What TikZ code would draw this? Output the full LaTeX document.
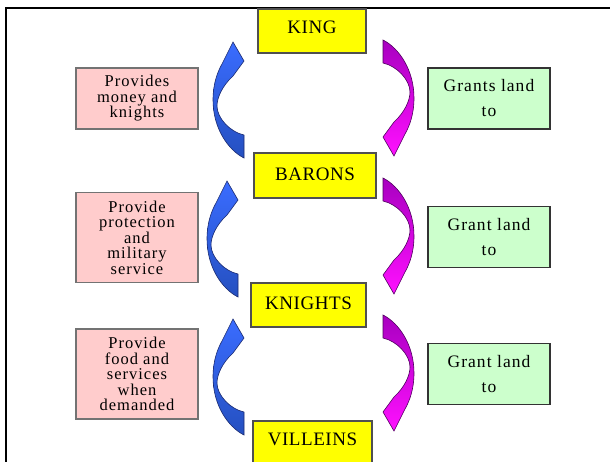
\documentclass[tikz,border=0pt]{standalone}
\usepackage{fontspec}
\setmainfont{Liberation Serif}
\newfontfamily\yfont[LetterSpace=3]{Liberation Serif}
\newfontfamily\pfont[LetterSpace=6]{Liberation Serif}
\newfontfamily\gfont[LetterSpace=6]{Liberation Serif}
\definecolor{ybox}{HTML}{FFFF00}
\definecolor{pbox}{HTML}{FFCCCC}
\definecolor{gbox}{HTML}{CCFFCC}
\definecolor{bluelt}{HTML}{3A6CFF}
\definecolor{bluedk}{HTML}{2550C0}
\definecolor{blueln}{HTML}{1A2A70}
\definecolor{maglt}{HTML}{FF10FF}
\definecolor{magdk}{HTML}{A800C0}
\definecolor{magln}{HTML}{500060}
\definecolor{boxln}{HTML}{505050}
\tikzset{
  yellowbox/.style={draw=boxln, line width=1.1pt, fill=ybox, inner sep=0pt, anchor=base,
    font=\yfont\fontsize{19}{21}\selectfont},
  pinkbox/.style={draw=boxln!80, line width=1.1pt, fill=pbox, inner sep=0pt, align=center,
    minimum width=122pt, font=\pfont\fontsize{16.5}{15.5}\selectfont},
  greenbox/.style={draw=black!80, line width=1.1pt, fill=gbox, inner sep=0pt, align=center,
    minimum width=122pt, minimum height=61pt, font=\gfont\fontsize{17.5}{25}\selectfont},
  arrowpath/.pic={
    \path[pic actions] (0,0) .. controls (-16,-8) and (-31,-30) .. (-31,-58)
      .. controls (-31,-75) and (-26,-87) .. (-22,-94) -- (-11,-116) -- (0,-97) -- (-11,-82)
      .. controls (-22,-72) and (-27,-60) .. (-27,-52)
      .. controls (-27,-40) and (-14,-26) .. (0,-23) -- cycle;
  },
  upblue/.style={draw=blueln, line width=0.6pt, top color=bluelt, bottom color=bluedk},
  downmag/.style={draw=magln, line width=0.6pt, top color=magdk, bottom color=maglt},
}
\begin{document}
\begin{tikzpicture}[x=1pt,y=-1pt]
\useasboundingbox (0,0) rectangle (610,461);
\fill[white] (0,0) rectangle (610,461);
% frame
\draw[line width=2.6pt, black] (6,470) -- (6,8) -- (615,8);

% yellow boxes
\node[yellowbox, minimum width=108pt, text height=24pt, text depth=20pt] (king) at (312,33) {KING};
\node[yellowbox, minimum width=122pt, text height=27pt, text depth=18pt] (barons) at (315,180) {BARONS};
\node[yellowbox, minimum width=115pt, text height=26pt, text depth=18pt] (knights) at (308.5,309) {KNIGHTS};
\node[yellowbox, minimum width=119pt, text height=24pt, text depth=30pt] (villeins) at (312.5,445) {VILLEINS};

% pink boxes
\node[pinkbox, minimum height=61pt] (p1) at (137,98.5) {Provides\\money and\\knights};
\node[pinkbox, minimum height=90pt] (p2) at (137,237.5) {Provide\\protection\\and\\military\\service};
\node[pinkbox, minimum height=90pt] (p3) at (137,374) {Provide\\food and\\services\\when\\demanded};

% green boxes
\node[greenbox] (g1) at (489,98.5) {Grants land\\to};
\node[greenbox] (g2) at (489,237) {Grant land\\to};
\node[greenbox] (g3) at (489,374) {Grant land\\to};

% blue arrows (upwards)
\pic[upblue] (b1) at (244,158) {arrowpath};
\pic[upblue] (b2) at (238,297) {arrowpath};
\pic[upblue] (b3) at (244,435) {arrowpath};

% magenta arrows (downwards)
\pic[downmag, rotate=180] (m1) at (383,40) {arrowpath};
\pic[downmag, rotate=180] (m2) at (383,178) {arrowpath};
\pic[downmag, rotate=180] (m3) at (383,315) {arrowpath};
\end{tikzpicture}
\end{document}
